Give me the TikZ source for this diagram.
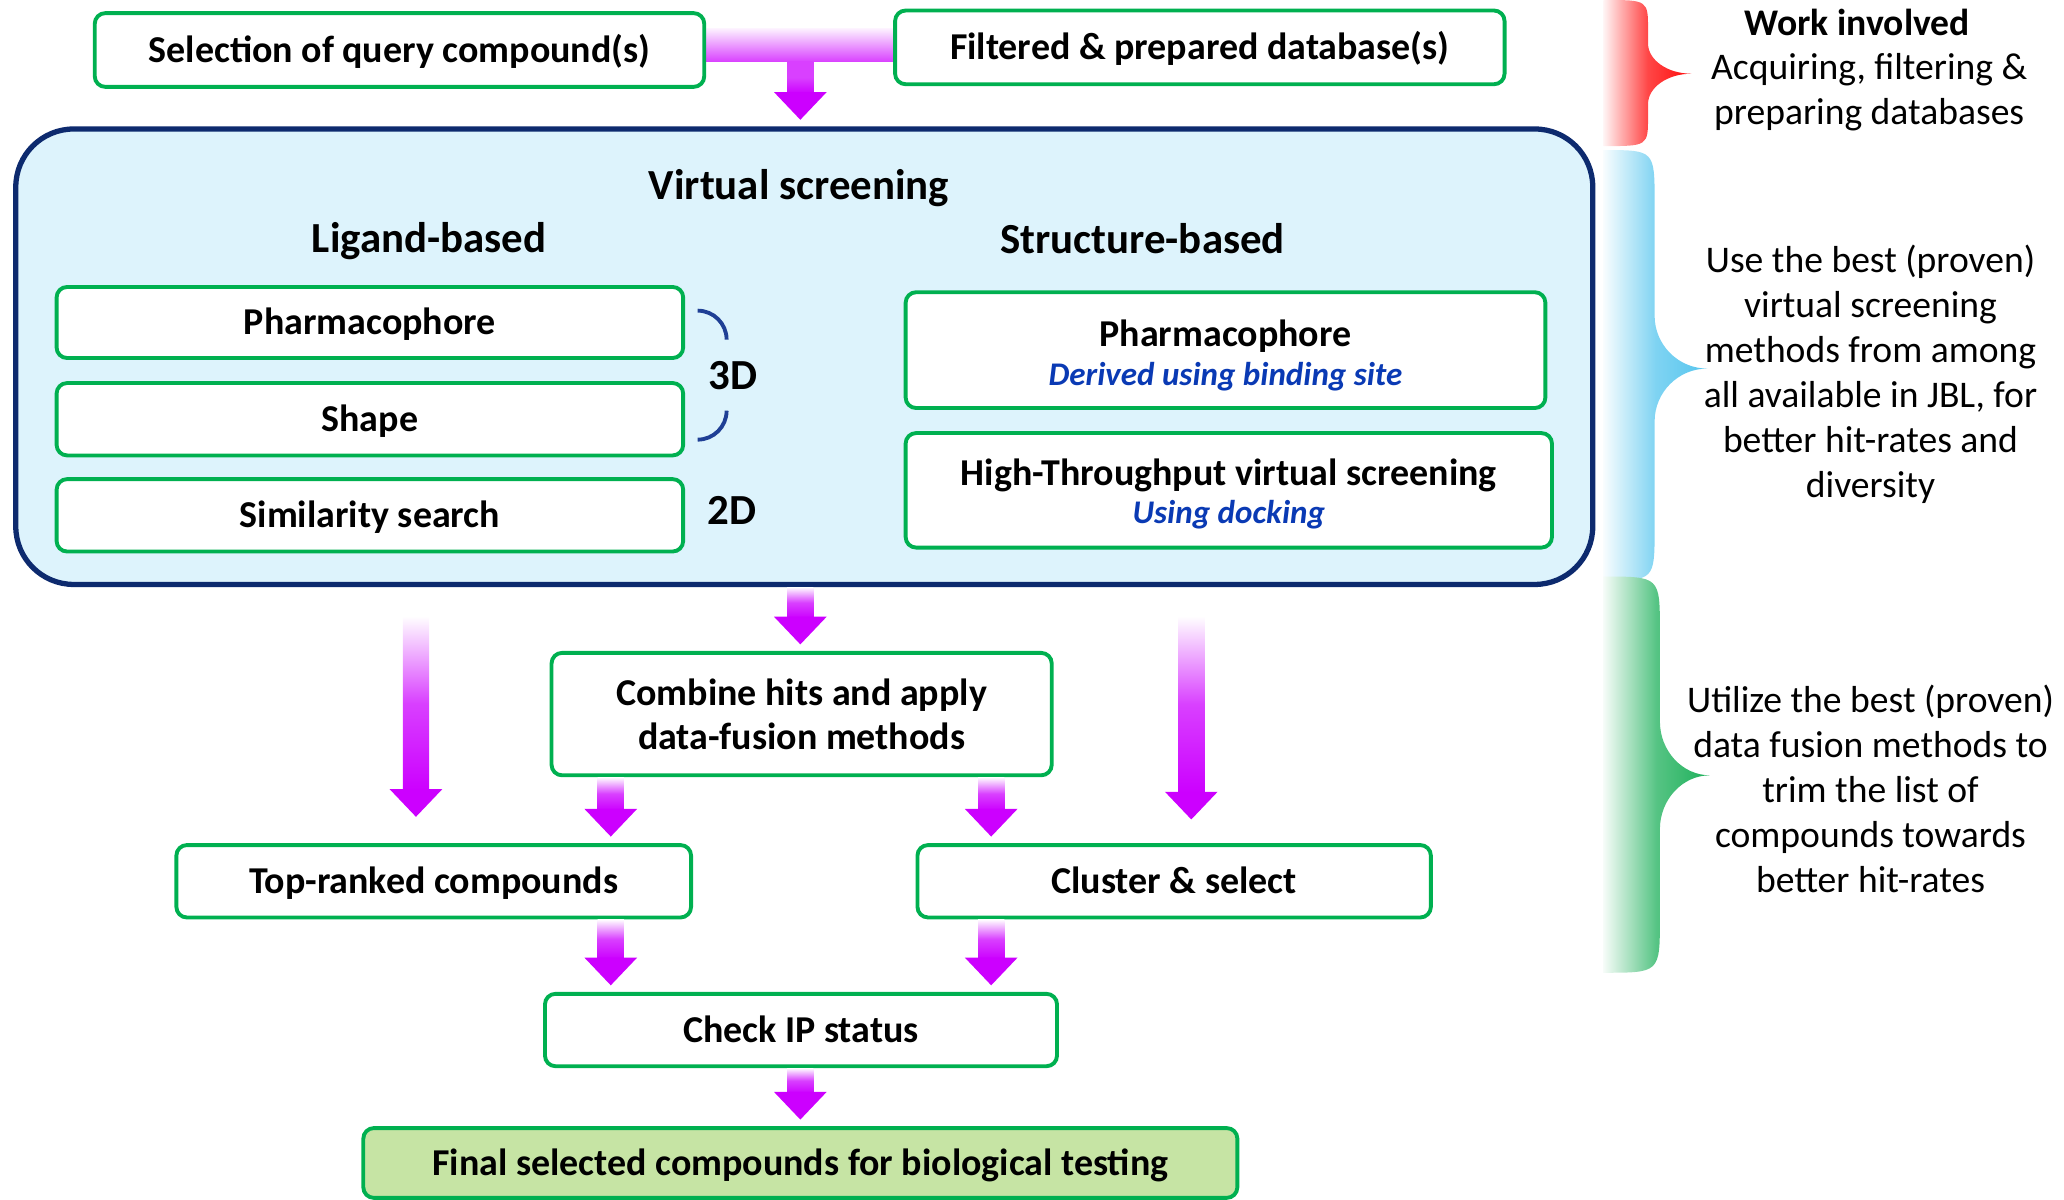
\documentclass[tikz,border=0pt]{standalone}
\usepackage{fontspec}
\setmainfont{Carlito}
\usetikzlibrary{positioning,calc}

\definecolor{boxgreen}{HTML}{00B050}
\definecolor{arrowmag}{HTML}{CC00FF}
\definecolor{vsfill}{HTML}{DDF3FC}
\definecolor{vsline}{HTML}{0D2A6E}
\definecolor{subblue}{HTML}{0A3AB4}
\definecolor{arcblue}{HTML}{1F3F95}
\definecolor{finalfill}{HTML}{C6E4A4}
\definecolor{bracered}{HTML}{FF0A0A}
\definecolor{braceblue}{HTML}{55C5EE}
\definecolor{bracegreen}{HTML}{1DB05A}

\newlength\pxl
\setlength\pxl{0.13163mm}

\tikzset{
  boxsize/.style 2 args={minimum width=#1\pxl, minimum height=#2\pxl},
  vsframe/.style={draw=vsline, fill=vsfill, line width=1.5pt, rounded corners=44\pxl},
  stepbox/.style={draw=boxgreen, fill=white, line width=1.1pt, rounded corners=8\pxl,
    align=center, inner sep=0pt, font=\bfseries\fontsize{10.8}{12.4}\selectfont},
  oneline/.style={text height=9.3pt, text depth=2.2pt},
  headtext/.style={inner sep=0pt, font=\bfseries\fontsize{12.2}{14}\selectfont},
  notetext/.style={align=center, inner sep=0pt, font=\fontsize{10.7}{12.8}\selectfont},
  arcline/.style={draw=arcblue, line width=1.1pt},
}

\newcommand\subline[1]{{\color{subblue}\itshape\fontsize{9.4}{11}\selectfont #1}}

% block arrow: #2 start of shaft, #3 point it heads for
\newcommand\magarrow[3][white]{%
  \shade[top color=#1, bottom color=arrowmag, middle color=arrowmag!75]
    ($(#2)+(-10,0)$) rectangle ($(#3)+(10,-25)$);
  \fill[arrowmag] ($(#3)+(-20,-26)$) -- ($(#3)+(20,-26)$) -- ($(#3)+(0,-5)$) -- cycle;}

% fading brace: colour, top, tip, bottom, inner x, tip x, corner
\newcommand\gradbrace[7]{%
  \shade[left color=#1!4, right color=#1, middle color=#1!75]
    (1218,#2) .. controls (#5,#2) .. (#5,{#2+#7}) -- (#5,{#3-#7})
    .. controls (#5,{#3-0.45*#7}) and ({#5+0.45*(#6-#5)},#3) .. (#6,#3)
    .. controls ({#5+0.45*(#6-#5)},#3) and (#5,{#3+0.45*#7}) .. (#5,{#3+#7})
    -- (#5,{#4-#7}) .. controls (#5,#4) .. (1218,#4) -- cycle;}

\begin{document}
\begin{tikzpicture}[x=\pxl, y=-\pxl]
\useasboundingbox (0,0) rectangle (1568,911);

% virtual screening
\node[vsframe, boxsize={1198}{346}] (vs) at (611,271) {};
\node[headtext] (vstitle) at (607,143) {Virtual screening};
\node[headtext] (lig) at (326,183) {Ligand-based};
\node[headtext] (struc) at (868,181) {Structure-based};

% braces on the right
\gradbrace{bracered}{0}{56}{111}{1252}{1285}{23}
\gradbrace{braceblue}{114}{280}{441}{1257}{1297}{40}
\gradbrace{bracegreen}{438}{589}{739}{1261}{1299}{41}

\node[notetext, font=\bfseries\fontsize{10.7}{12.8}\selectfont] (worktitle) at (1411,17) {Work involved};
\node[notetext] (work) at (1420,70) {Acquiring, filtering \&\\preparing databases};
\node[notetext] (vsnote) at (1421,284.5) {Use the best (proven)\\virtual screening\\methods from among\\all available in JBL, for\\better hit-rates and\\diversity};
\node[notetext] (fusnote) at (1421,599) {Utilize the best (proven)\\data fusion methods to\\trim the list of\\compounds towards\\better hit-rates};

% inputs
\shade[top color=arrowmag!5, bottom color=arrowmag!75] (535,21.5) rectangle (682,47);
\node[stepbox, oneline, boxsize={463}{56}] (sel) at (303.5,38) {Selection of query compound(s)};
\node[stepbox, oneline, boxsize={463}{56}] (db) at (911.5,36) {Filtered \& prepared database(s)};
\magarrow[arrowmag!75]{608,47}{608,0 |- vs.north}

% ligand-based
\node[stepbox, oneline, boxsize={476}{54}] (lph) at (281,245) {Pharmacophore};
\node[stepbox, oneline, boxsize={476}{55}] (lsh) at (281,318.5) {Shape};
\node[stepbox, oneline, boxsize={476}{55}] (lsim) at (281,391.5) {Similarity search};
\node[headtext] (dim3) at (557,285) {3D};
\node[headtext] (dim2) at (556,388) {2D};
\draw[arcline] (530,236) arc[start angle=90, end angle=0, radius=22\pxl];
\draw[arcline] (552,312) arc[start angle=0, end angle=-90, radius=22\pxl];

% structure-based
\node[stepbox, boxsize={486}{88}] (sph) at (931,266) {\rule{0pt}{10.5pt}Pharmacophore\\[-1.2pt]\subline{Derived using binding site}};
\node[stepbox, boxsize={491}{87}] (htvs) at (933.5,372.5) {\rule{0pt}{9.8pt}High-Throughput virtual screening\\[-1.5pt]\subline{Using docking}};

% after screening
\node[stepbox, boxsize={380}{93}] (comb) at (609,542.5) {Combine hits and apply\\data-fusion methods};
\node[stepbox, oneline, boxsize={391}{55}] (rank) at (329.5,669.5) {Top-ranked compounds};
\node[stepbox, oneline, boxsize={390}{55}] (clus) at (892,669.5) {Cluster \& select};
\node[stepbox, oneline, boxsize={389}{55}] (ip) at (608.5,782.5) {Check IP status};
\node[stepbox, oneline, fill=finalfill, boxsize={664}{53}] (final) at (608,883.5) {Final selected compounds for biological testing};

\coordinate (lgo) at ($(316,0 |- vs.south)+(0,22)$);
\coordinate (lend) at ($(316,0 |- rank.north)+(0,-15)$);
\coordinate (rgo) at ($(905,0 |- vs.south)+(0,22)$);
\coordinate (rend) at ($(905,0 |- clus.north)+(0,-13)$);

\magarrow{608,0 |- vs.south}{608,0 |- comb.north}
\magarrow{lgo}{lend}
\magarrow{rgo}{rend}
\magarrow{464,0 |- comb.south}{464,0 |- rank.north}
\magarrow{753,0 |- comb.south}{753,0 |- clus.north}
\magarrow{464,0 |- rank.south}{464,0 |- ip.north}
\magarrow{753,0 |- clus.south}{753,0 |- ip.north}
\magarrow{608,0 |- ip.south}{608,0 |- final.north}
\end{tikzpicture}
\end{document}
